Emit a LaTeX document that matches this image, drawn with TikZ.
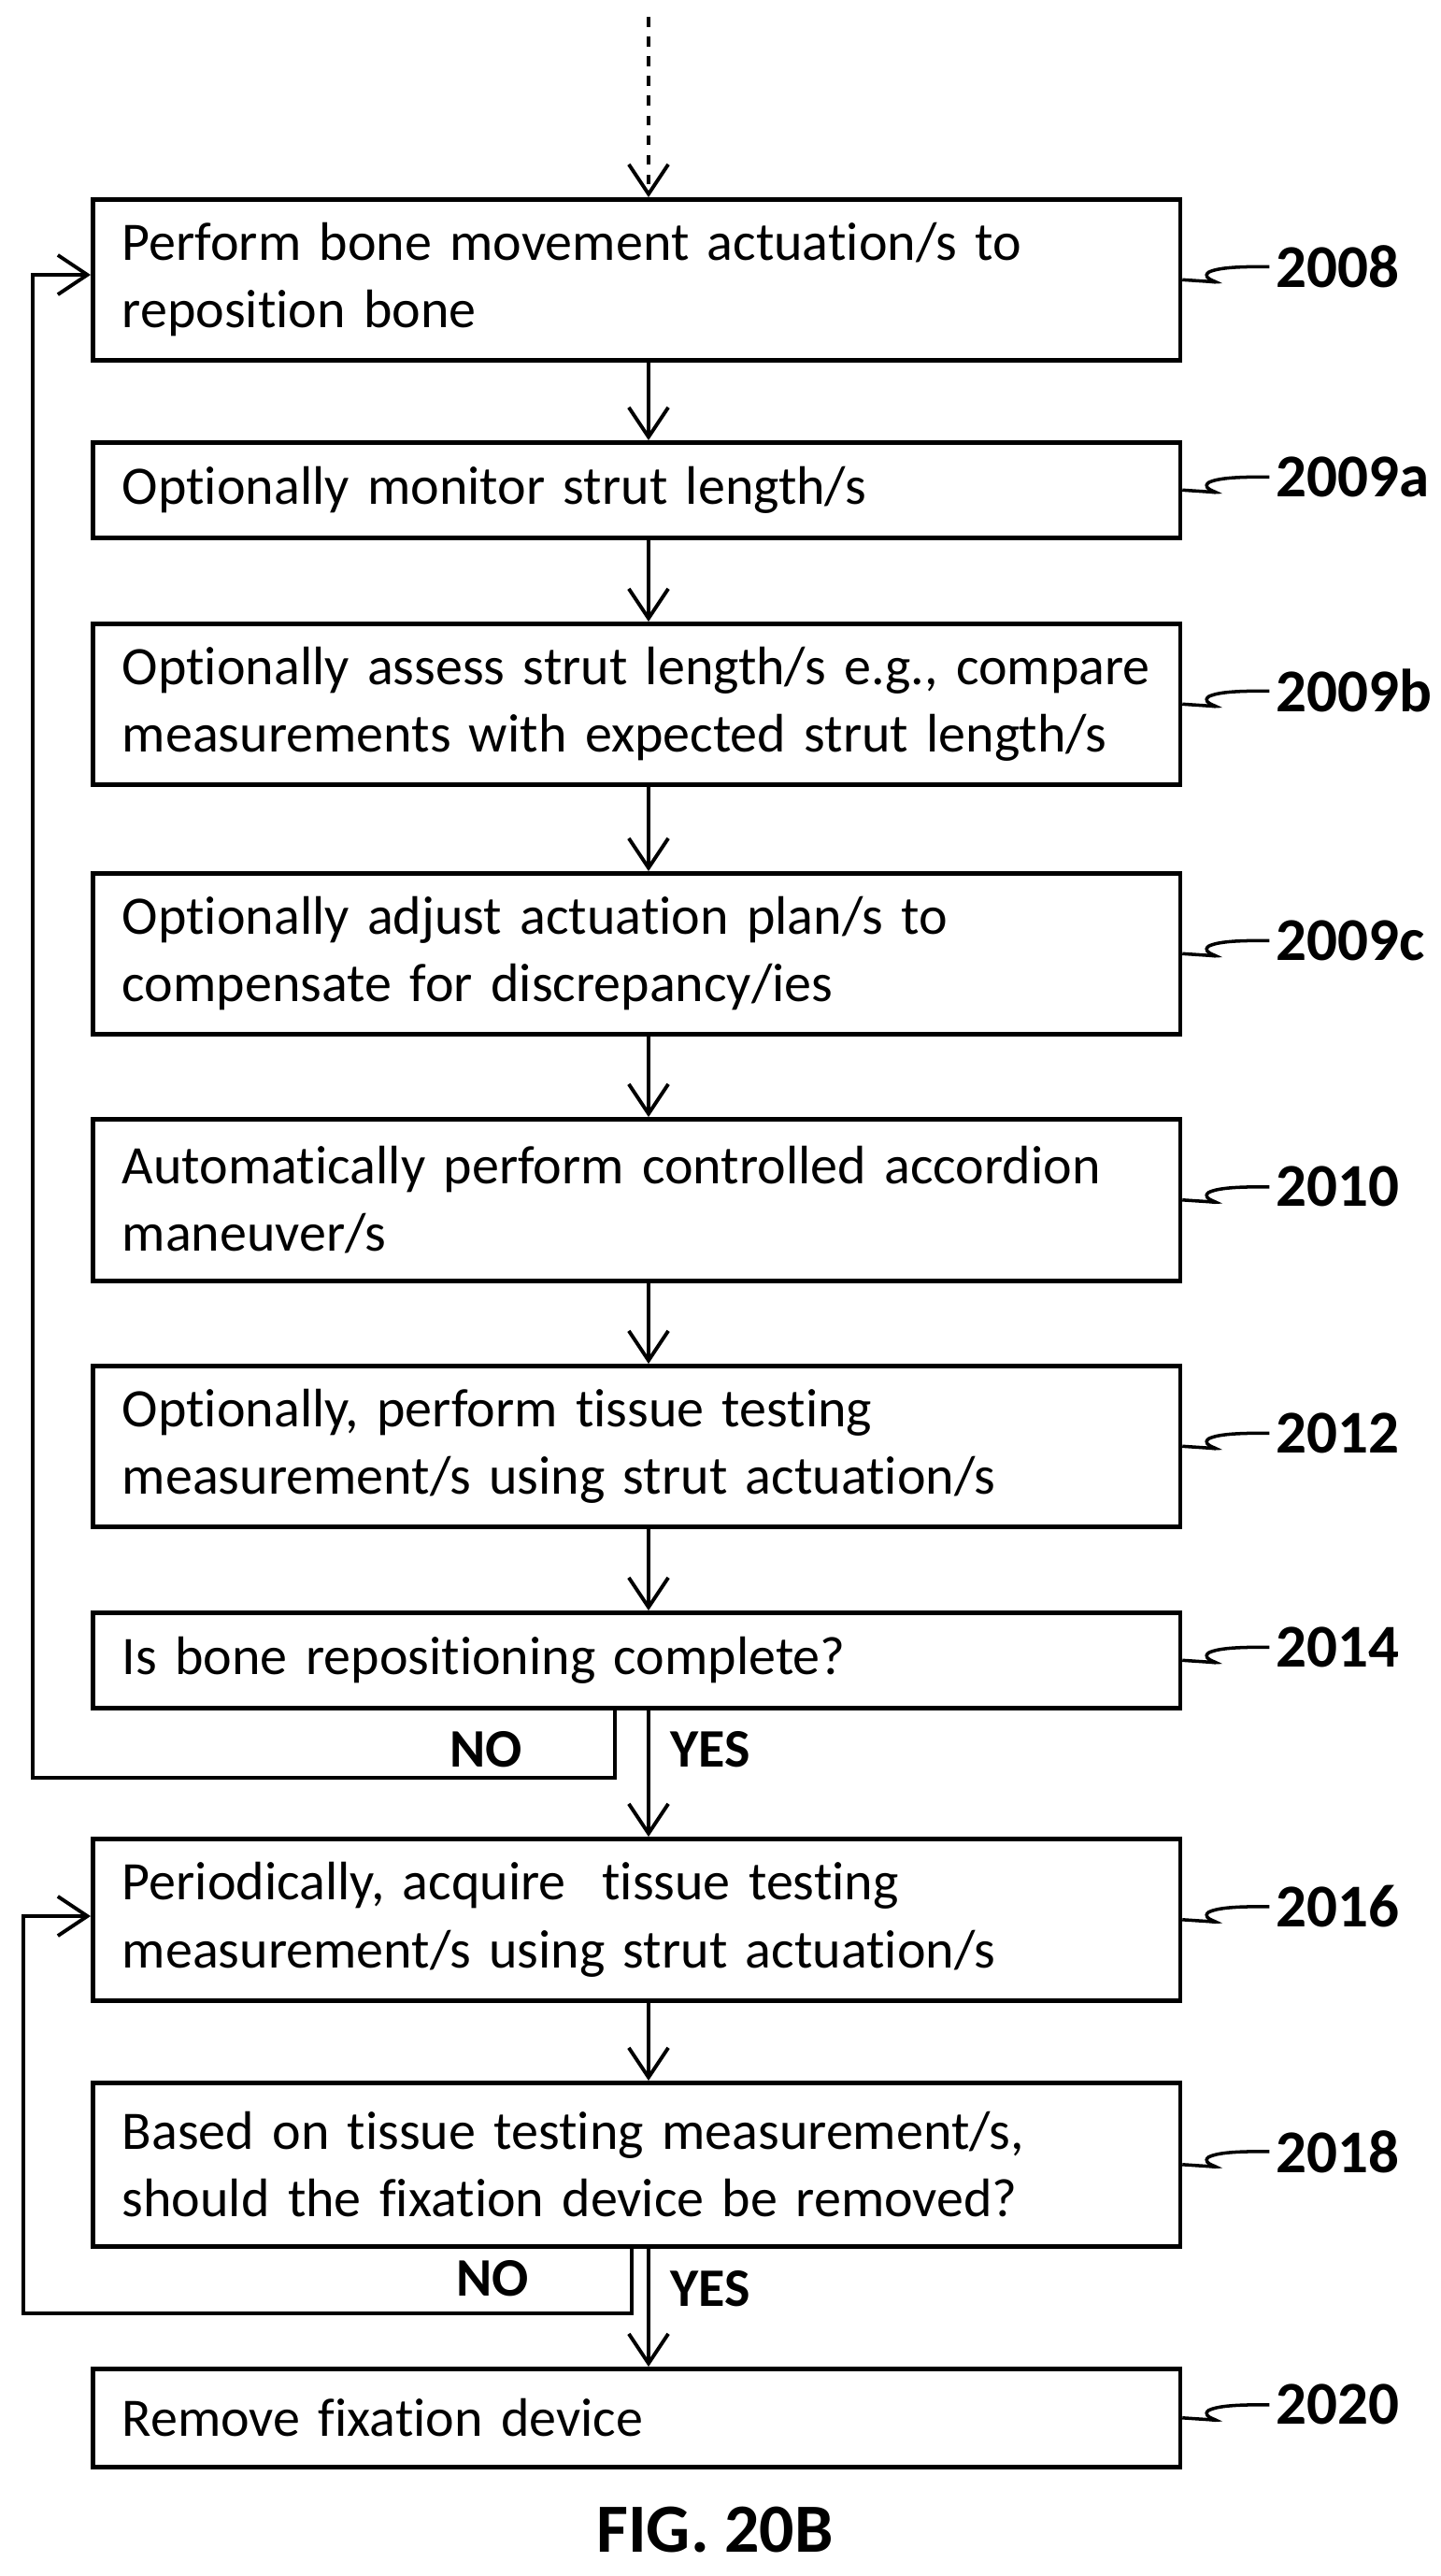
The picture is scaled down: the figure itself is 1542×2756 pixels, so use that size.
\documentclass[tikz,border=0pt]{standalone}
\usepackage{fontspec}
\setmainfont[Ligatures={NoCommon}]{Carlito}
\usetikzlibrary{arrows.meta}
\begin{document}
\begin{tikzpicture}[x=0.01cm,y=-0.01cm,
 box/.style={draw,line width=1.3pt,minimum width=11.63cm,text width=11.0cm,align=left,inner xsep=0.31cm,anchor=north west,font=\fontsize{16.5}{20.5}\selectfont},
 arr/.style={line width=1.1pt,-{Straight Barb[length=9pt,width=12pt]}},
 lbl/.style={font=\fontsize{18.5}{22}\selectfont\bfseries,anchor=west,inner xsep=2pt},
 yn/.style={font=\fontsize{16.5}{20}\selectfont\bfseries}]
\useasboundingbox (0,0) rectangle (1542,2756);
\newcommand\flowbox[5]{\node[box,minimum height=#3*0.01cm] (#1) at (97,#2) {#4};
 \draw[line width=1pt] (#1.east) -- ++(30,2) .. controls ++(18,2) and ++(-10,8) .. ++(-2,-10) .. controls ++(12,-6) and ++(-25,0) .. ++(65,-6) coordinate (#1l);
 \node[lbl] at (#1l) {#5};}
\flowbox{b8}{211}{172}{Perform bone movement actuation/s to\\reposition bone}{2008}
\flowbox{b9a}{471}{102}{Optionally monitor strut length/s}{2009a}
\flowbox{b9b}{665}{172}{Optionally assess strut length/s e.g., compare\\measurements with expected strut length/s}{2009b}
\flowbox{b9c}{932}{172}{Optionally adjust actuation plan/s to\\compensate for discrepancy/ies}{2009c}
\flowbox{b10}{1195}{173}{Automatically perform controlled accordion\\maneuver/s}{2010}
\flowbox{b12}{1459}{172}{Optionally, perform tissue testing\\measurement/s using strut actuation/s}{2012}
\flowbox{b14}{1723}{102}{Is bone repositioning complete?}{2014}
\flowbox{b16}{1965}{173}{Periodically, acquire \ tissue testing\\measurement/s using strut actuation/s}{2016}
\flowbox{b18}{2226}{175}{Based on tissue testing measurement/s,\\should the fixation device be removed?}{2018}
\flowbox{b20}{2532}{105}{Remove fixation device}{2020}
\coordinate (top) at (694,18);
\draw[arr,dashed] (top) -- (b8.north -| top);
\foreach \a/\b in {b8/b9a,b9a/b9b,b9b/b9c,b9c/b10,b10/b12,b12/b14,b14/b16,b16/b18,b18/b20}
  \draw[arr] (\a.south -| top) -- (\b.north -| top);
\draw[arr] (b14.south -| 658,0) -- (658,1902) -- (35,1902) -- (35,294) -- (b8.west |- 35,294);
\draw[arr] (b18.south -| 676,0) -- (676,2475) -- (25,2475) -- (25,2050) -- (b16.west |- 25,2050);
\node[yn] at (520,1872) {NO};
\node[yn] at (760,1872) {YES};
\node[yn] at (527,2438) {NO};
\node[yn] at (760,2449) {YES};
\node[font=\fontsize{21}{24}\selectfont\bfseries] (fig) at (765,2707) {FIG. 20B};
\end{tikzpicture}
\end{document}
